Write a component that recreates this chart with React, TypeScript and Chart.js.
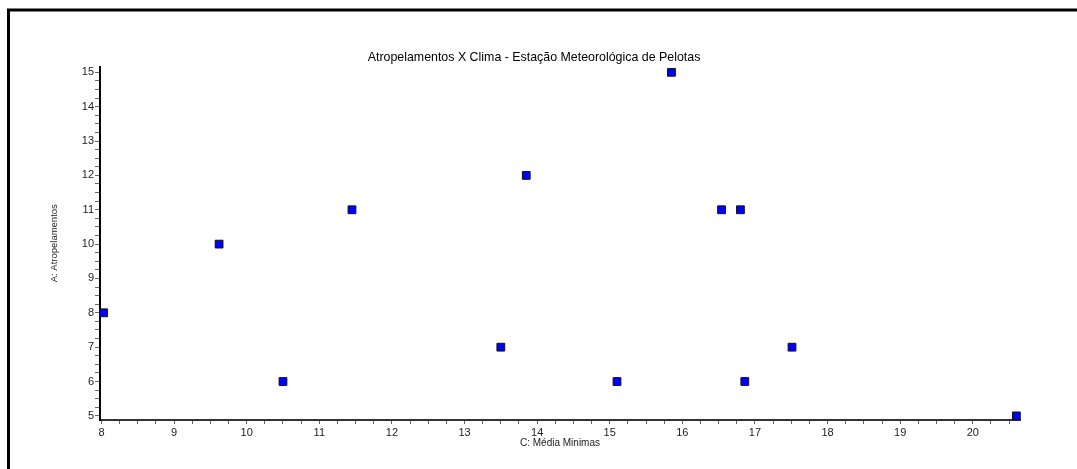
import React, { useEffect, useRef } from "react";
import { Chart, registerables } from "chart.js";

Chart.register(...registerables);

const chartTitle = "Atropelamentos X Clima - Estação Meteorológica de Pelotas";
const xAxisTitle = "C: Média Minimas";
const yAxisTitle = "A: Atropelamentos";

// C: Média Minimas (x) and A: Atropelamentos (y)
const mediaMinimas = [8.03, 9.62, 10.5, 11.45, 13.5, 13.85, 15.1, 15.85, 16.54, 16.8, 16.86, 17.51, 20.6];
const atropelamentos = [8, 10, 6, 11, 7, 12, 6, 15, 11, 11, 6, 7, 5];

const xTickLabels = [8, 9, 10, 11, 12, 13, 14, 15, 16, 17, 18, 19, 20];
const yTickLabels = [5, 6, 7, 8, 9, 10, 11, 12, 13, 14, 15];

const xRange = { min: 7.98, max: 20.65 };
const yRange = { min: 4.88, max: 15.17 };
const minorStep = 0.25;

const FONT = "'Liberation Sans', Arial, sans-serif";

function minorTicks(min: number, max: number, step: number) {
  const out: { value: number }[] = [];
  const start = Math.ceil(min / step) * step;
  for (let v = start; v <= max + 1e-9; v += step) {
    out.push({ value: Math.round(v * 1000) / 1000 });
  }
  return out;
}

const frameAndTitle = {
  id: "frameAndTitle",
  beforeDraw(chart: any) {
    const ctx = chart.ctx;
    ctx.save();
    ctx.fillStyle = "#ffffff";
    ctx.fillRect(0, 0, chart.width, chart.height);
    ctx.strokeStyle = "#000000";
    ctx.lineWidth = 3;
    ctx.beginPath();
    ctx.moveTo(8.5, chart.height + 10);
    ctx.lineTo(8.5, 10);
    ctx.lineTo(chart.width + 10, 10);
    ctx.stroke();
    ctx.fillStyle = "#000000";
    ctx.font = `12.4px ${FONT}`;
    ctx.textAlign = "center";
    ctx.textBaseline = "middle";
    ctx.fillText(chartTitle, 534, 58);
    ctx.restore();
  },
};

export default function App() {
  const canvasRef = useRef<HTMLCanvasElement | null>(null);

  useEffect(() => {
    if (!canvasRef.current) return;
    const points = mediaMinimas.map((x, i) => ({ x, y: atropelamentos[i] }));
    const chart = new Chart(canvasRef.current, {
      type: "scatter",
      data: {
        datasets: [
          {
            label: yAxisTitle,
            data: points,
            pointStyle: "rect",
            pointRadius: 5.5,
            pointHoverRadius: 5.5,
            backgroundColor: "#0000ff",
            borderColor: "#111111",
            borderWidth: 1,
            clip: false as any,
          },
        ],
      },
      options: {
        responsive: false,
        animation: false,
        layout: { padding: { left: 0, right: 57, top: 66.5, bottom: 0 } },
        plugins: {
          legend: { display: false },
          tooltip: { enabled: false },
          title: { display: false },
        },
        scales: {
          x: {
            type: "linear",
            min: xRange.min,
            max: xRange.max,
            afterBuildTicks: (scale: any) => {
              scale.ticks = minorTicks(xRange.min, xRange.max, minorStep);
            },
            afterFit: (scale: any) => {
              scale.height = 49;
            },
            ticks: {
              autoSkip: false,
              maxRotation: 0,
              padding: 2,
              color: "#222222",
              font: { family: FONT, size: 11 },
              callback: (v: any) => (xTickLabels.includes(Number(v)) ? String(v) : ""),
            },
            grid: {
              drawOnChartArea: false,
              drawTicks: true,
              tickLength: 4,
              tickColor: "#666666",
              tickWidth: 1,
            },
            border: { display: true, color: "#333333", width: 2 },
            title: {
              display: true,
              text: xAxisTitle,
              color: "#222222",
              font: { family: FONT, size: 10 },
              padding: { top: 0, bottom: 20 },
            },
          },
          y: {
            type: "linear",
            min: yRange.min,
            max: yRange.max,
            afterBuildTicks: (scale: any) => {
              scale.ticks = minorTicks(yRange.min, yRange.max, minorStep);
            },
            afterFit: (scale: any) => {
              scale.width = 100;
            },
            ticks: {
              autoSkip: false,
              padding: 1,
              color: "#222222",
              font: { family: FONT, size: 11 },
              callback: (v: any) => (yTickLabels.includes(Number(v)) ? String(v) : ""),
            },
            grid: {
              drawOnChartArea: false,
              drawTicks: true,
              tickLength: 5,
              tickColor: "#666666",
              tickWidth: 1,
            },
            border: { display: true, color: "#000000", width: 2 },
            title: {
              display: true,
              text: yAxisTitle,
              color: "#222222",
              font: { family: FONT, size: 9.5 },
              padding: { top: 49, bottom: 0 },
            },
          },
        },
      },
      plugins: [frameAndTitle],
    });
    return () => chart.destroy();
  }, []);

  return (
    <div style={{ position: "absolute", left: 0, top: 0, width: 1077, height: 469 }}>
      <canvas ref={canvasRef} width={1077} height={469} />
    </div>
  );
}
